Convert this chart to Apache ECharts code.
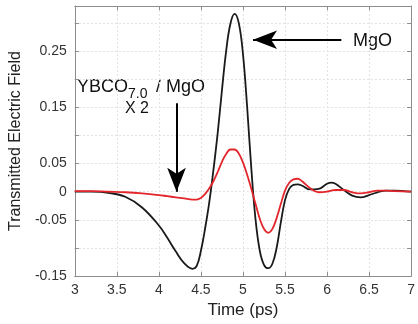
<!DOCTYPE html>
<html>
<head>
<meta charset="utf-8">
<script src="https://cdn.jsdelivr.net/npm/echarts@6/dist/echarts.min.js"></script>
<style>html,body{margin:0;padding:0;background:#fff}#c{width:418px;height:324px}</style>
</head>
<body>
<div id="c"></div>
<script>
const time = [3.0, 3.2, 3.4, 3.6, 3.8, 4.0, 4.1, 4.2, 4.3, 4.4, 4.45, 4.5, 4.55, 4.6, 4.65, 4.7, 4.75, 4.8, 4.85, 4.9, 4.95, 5.0, 5.05, 5.1, 5.15, 5.2, 5.25, 5.3, 5.35, 5.4, 5.45, 5.5, 5.55, 5.6, 5.65, 5.7, 5.8, 5.9, 6.0, 6.05, 6.1, 6.2, 6.3, 6.4, 6.5, 6.6, 6.7, 6.8, 7.0];
const mgo = [0, 0, -0.002, -0.009, -0.028, -0.06, -0.082, -0.106, -0.127, -0.137, -0.132, -0.105, -0.065, -0.018, 0.04, 0.105, 0.18, 0.25, 0.298, 0.316, 0.3, 0.245, 0.15, 0.04, -0.05, -0.105, -0.13, -0.136, -0.128, -0.1, -0.055, -0.015, 0.005, 0.012, 0.013, 0.011, 0.004, 0.005, 0.014, 0.016, 0.014, 0.003, -0.007, -0.01, -0.006, -0.001, 0.002, 0.002, 0];
const ybco = [0.001, 0.001, 0, -0.001, -0.003, -0.006, -0.008, -0.01, -0.012, -0.014, -0.014, -0.011, -0.004, 0.006, 0.019, 0.035, 0.053, 0.067, 0.075, 0.075, 0.068, 0.052, 0.03, 0.005, -0.022, -0.048, -0.066, -0.073, -0.066, -0.047, -0.022, 0.002, 0.016, 0.022, 0.023, 0.019, 0.006, -0.001, 0, 0.002, 0.003, 0.003, -0.001, -0.003, -0.001, 0.002, 0.002, 0.001, 0];
const yTickLabels = ['0.25', '0.15', '0.05', '0', '-0.05', '-0.15'];

const font = 'Liberation Sans, Arial, Helvetica, sans-serif';
const axisColor = '#8c8c8c';
const chart = echarts.init(document.getElementById('c'), null, {renderer: 'canvas'});

function fmtY(v) {
  const s = String(Math.round(v * 100) / 100);
  return yTickLabels.indexOf(s) >= 0 ? s : '';
}
const common = {
  axisLine: {show: true, onZero: false, lineStyle: {color: axisColor, width: 1}},
  axisTick: {show: true, inside: true, length: 4, lineStyle: {color: axisColor}},
};
chart.setOption({
  animation: false,
  grid: {left: 72, right: 5, top: 6, bottom: 47},
  xAxis: [{
    type: 'value', min: 3, max: 7, interval: 0.5,
    ...common,
    axisLabel: {color: '#333', fontSize: 14, fontFamily: font, margin: 7},
    splitLine: {show: true, lineStyle: {color: '#e2e2e2', type: [2, 2]}},
    name: 'Time (ps)', nameLocation: 'middle', nameGap: 22,
    nameTextStyle: {color: '#222', fontSize: 17, fontFamily: font}
  }, {
    type: 'value', min: 3, max: 7, interval: 0.5, position: 'top',
    ...common, axisLabel: {show: false}, splitLine: {show: false}
  }],
  yAxis: [{
    type: 'value', min: -0.15, max: 0.33, interval: 0.05,
    ...common,
    axisLabel: {color: '#333', fontSize: 14, fontFamily: font, margin: 8, formatter: fmtY},
    splitLine: {show: true, lineStyle: {color: '#e2e2e2', type: [2, 2]}},
    name: 'Transmitted Electric Field', nameLocation: 'middle', nameGap: 44,
    nameTextStyle: {color: '#222', fontSize: 16, fontFamily: font}
  }, {
    type: 'value', min: -0.15, max: 0.33, interval: 0.05, position: 'right',
    ...common, axisLabel: {show: false}, splitLine: {show: false}
  }],
  series: [{
    type: 'line', name: 'MgO', smooth: 0.4, symbol: 'none',
    data: time.map((t, i) => [t, mgo[i]]),
    lineStyle: {color: '#1a1a1a', width: 1.8},
    markLine: {
      silent: true, symbol: ['none', 'arrow'], symbolSize: [14, 24],
      lineStyle: {color: '#000', width: 2, type: 'solid'},
      label: {show: false},
      data: [
        [{coord: [6.17, 0.27]}, {coord: [5.12, 0.27]}],
        [{coord: [4.21, 0.157]}, {coord: [4.21, 0.0]}]
      ]
    }
  }, {
    type: 'line', name: 'YBCO', smooth: 0.4, symbol: 'none',
    data: time.map((t, i) => [t, ybco[i]]),
    lineStyle: {color: '#e3262b', width: 1.8}
  }],
  graphic: [
    {type: 'text', left: 353, top: 32, style: {text: 'MgO', fontSize: 18, fontFamily: font, fill: '#111'}},
    {type: 'text', left: 77, top: 78, style: {text: 'YBCO', fontSize: 18, fontFamily: font, fill: '#111'}},
    {type: 'text', left: 128, top: 87, style: {text: '7.0', fontSize: 14, fontFamily: font, fill: '#111'}},
    {type: 'text', left: 156, top: 78, style: {text: '/ MgO', fontSize: 18, fontFamily: font, fill: '#111'}},
    {type: 'text', left: 125, top: 101, style: {text: 'X 2', fontSize: 16, fontFamily: font, fill: '#111'}}
  ]
});
</script>
</body>
</html>
